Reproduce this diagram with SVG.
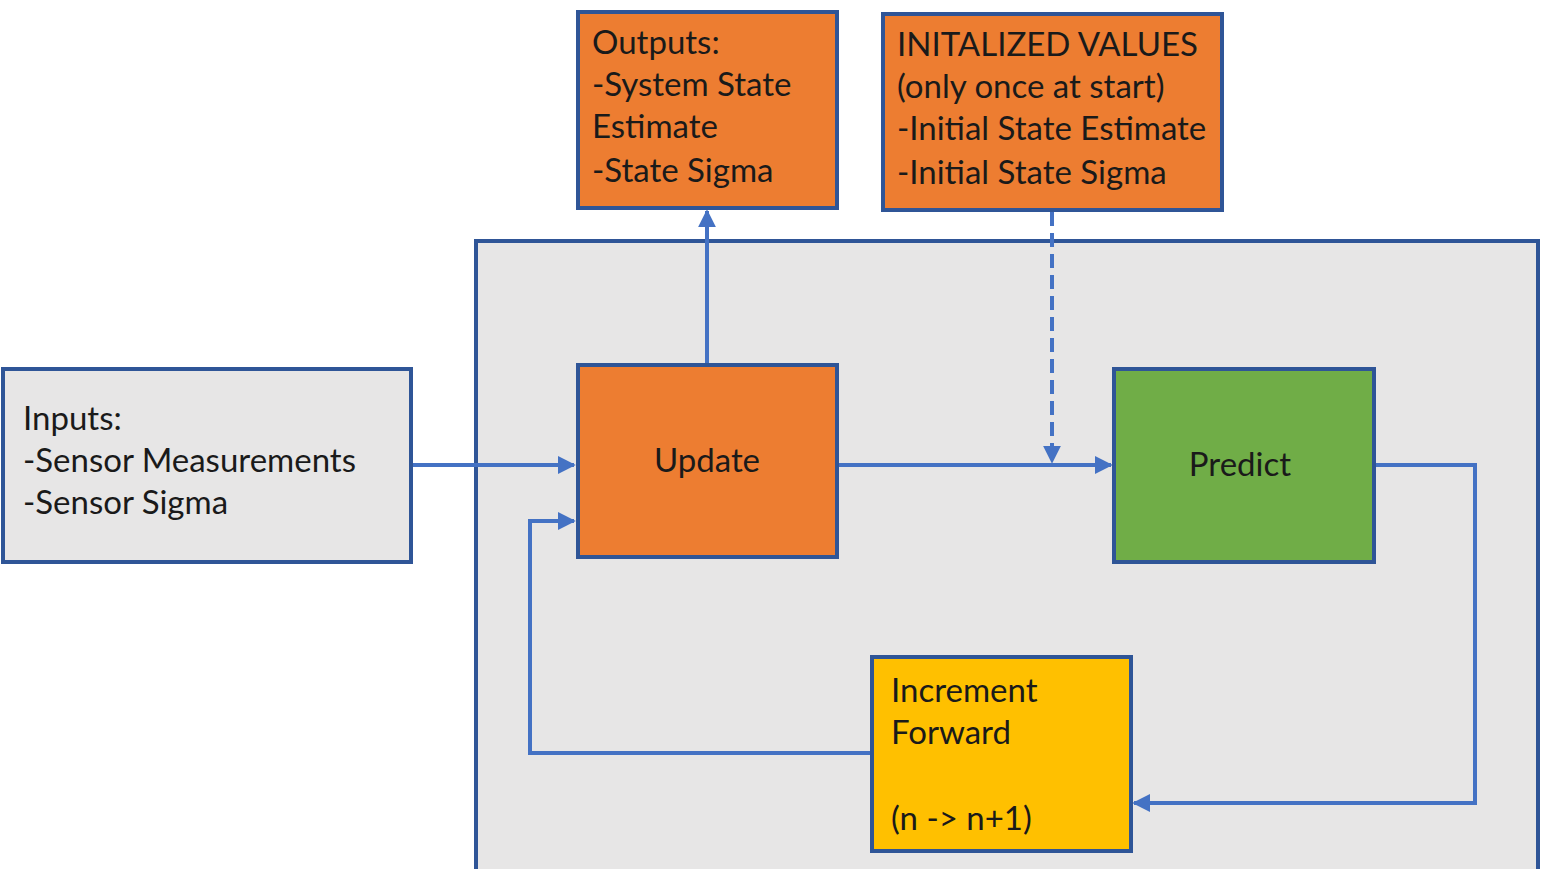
<svg xmlns="http://www.w3.org/2000/svg" width="1548" height="869" viewBox="0 0 1548 869">
<defs>
<style>
.box{stroke:#2f5597;stroke-width:4}
.t{font-family:Lato,"Open Sans","Liberation Sans",sans-serif;font-size:33px;fill:#1a1a1a}
.c{fill:none;stroke:#4472c4;stroke-width:4}
</style>
<marker id="ah" viewBox="0 0 10 10" refX="9" refY="5" markerWidth="4.5" markerHeight="4.5" orient="auto" markerUnits="strokeWidth">
<path d="M0,0 L10,5 L0,10 Z" fill="#4472c4"/>
</marker>
</defs>
<rect width="1548" height="869" fill="#ffffff"/>
<g id="container"><rect class="box" x="476" y="241" width="1062" height="640" fill="#e7e6e6"/></g>
<g id="connectors">
<line class="c" x1="411" y1="465" x2="574" y2="465" marker-end="url(#ah)"/>
<line class="c" x1="707" y1="365" x2="707" y2="211" marker-end="url(#ah)"/>
<line class="c" x1="837" y1="465" x2="1111" y2="465" marker-end="url(#ah)"/>
<line class="c" x1="1052" y1="212" x2="1052" y2="462" stroke-dasharray="14,7" marker-end="url(#ah)"/>
<polyline class="c" points="1374,465 1475,465 1475,803 1134,803" marker-end="url(#ah)"/>
<polyline class="c" points="872,753 530,753 530,521 574,521" marker-end="url(#ah)"/>
</g>
<g id="inputs"><rect class="box" x="3" y="369" width="408" height="193" fill="#e7e6e6"/>
<text class="t" x="23" y="430">Inputs:</text>
<text class="t" x="23" y="472">-Sensor Measurements</text>
<text class="t" x="23" y="514">-Sensor Sigma</text></g>
<g id="outputs"><rect class="box" x="578" y="12" width="259" height="196" fill="#ed7d31"/>
<text class="t" x="592" y="54">Outputs:</text>
<text class="t" x="592" y="96">-System State</text>
<text class="t" x="592" y="138">Estimate</text>
<text class="t" x="592" y="182">-State Sigma</text></g>
<g id="init"><rect class="box" x="883" y="14" width="339" height="196" fill="#ed7d31"/>
<text class="t" x="897" y="56">INITALIZED VALUES</text>
<text class="t" x="897" y="98">(only once at start)</text>
<text class="t" x="897" y="140">-Initial State Estimate</text>
<text class="t" x="897" y="184">-Initial State Sigma</text></g>
<g id="update"><rect class="box" x="578" y="365" width="259" height="192" fill="#ed7d31"/>
<text class="t" x="707" y="472" text-anchor="middle">Update</text></g>
<g id="predict"><rect class="box" x="1114" y="369" width="260" height="193" fill="#70ad47"/>
<text class="t" x="1240" y="476" text-anchor="middle">Predict</text></g>
<g id="increment"><rect class="box" x="872" y="657" width="259" height="194" fill="#ffc000"/>
<text class="t" x="891" y="702">Increment</text>
<text class="t" x="891" y="744">Forward</text>
<text class="t" x="891" y="830">(n -&gt; n+1)</text></g>
</svg>
